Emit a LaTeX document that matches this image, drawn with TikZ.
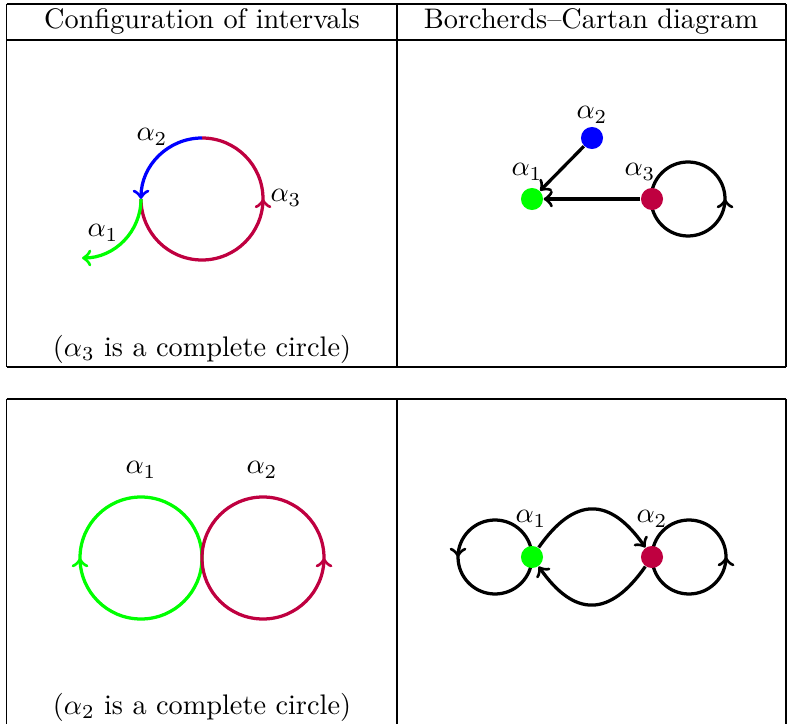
\documentclass[tikz,border=0pt]{standalone}
\usetikzlibrary{decorations.markings,arrows.meta}
\definecolor{cgreen}{rgb}{0,1,0}
\definecolor{cblue}{rgb}{0,0,1}
\definecolor{cred}{rgb}{0.75,0,0.25}
\begin{document}
\begin{tikzpicture}[x=0.3534pt,y=0.3534pt,
  frame/.style={line width=0.55pt},
  curve/.style={line width=1.15pt},
  lbl/.style={inner sep=0pt},
  dot/.style={circle,inner sep=0pt,minimum size=7.8pt},
  midarrow/.style={postaction={decorate,decoration={markings,mark=at position #1 with {\arrow{>}}}}},
  >={to}]
\useasboundingbox (0,0) rectangle (788,724);
% table frames
\draw[frame] (6.5,720) -- (786,720);
\draw[frame] (6.5,684) -- (786,684);
\draw[frame] (6.5,357) -- (786,357);
\draw[frame] (6.5,720) -- (6.5,357);
\draw[frame] (397,720) -- (397,357);
\draw[frame] (786,720) -- (786,357);
\draw[frame] (6.5,325) -- (786,325);
\draw[frame] (6.5,325) -- (6.5,0);
\draw[frame] (397,325) -- (397,0);
\draw[frame] (786,325) -- (786,0);
% headers
\node[lbl] (h1) at (202,703) {Configuration of intervals};
\node[lbl] (h2) at (591,703) {Borcherds--Cartan diagram};
% top-left: intervals
\coordinate (tlc) at (202,525);
\coordinate (tlp) at (141,525);
\draw[curve,cred,midarrow=0.667] (tlp) arc[start angle=180,end angle=450,radius=61];
\draw[curve,cblue,->] (202,586) arc[start angle=90,end angle=180,radius=61];
\draw[curve,cgreen,->] (tlp) arc[start angle=0,end angle=-90,radius=59];
\node[lbl] (ta2) at (152,587) {$\alpha_2$};
\node[lbl] (ta3) at (286,526) {$\alpha_3$};
\node[lbl] (ta1) at (103,491) {$\alpha_1$};
\node[lbl] (cap1) at (202,375) {($\alpha_3$ is a complete circle)};
% top-right: diagram
\draw[curve,midarrow=0.5] (651,525) arc[start angle=180,end angle=540,radius=37];
\node[dot,fill=cgreen] (a1) at (532,525) {};
\node[dot,fill=cblue] (a2) at (592,586) {};
\node[dot,fill=cred] (a3) at (652,525) {};
\draw[curve,->] (a2) -- (a1);
\draw[curve,->] (a3) -- (a1);
\node[lbl] (la1) at (527,552) {$\alpha_1$};
\node[lbl] (la2) at (592,609) {$\alpha_2$};
\node[lbl] (la3) at (640,552) {$\alpha_3$};
% bottom-left: intervals
\draw[curve,cgreen,midarrow=0.5] (202,166) arc[start angle=0,end angle=-360,radius=61];
\draw[curve,cred,midarrow=0.5] (202,166) arc[start angle=180,end angle=540,radius=61];
\node[lbl] (ba1) at (141,254) {$\alpha_1$};
\node[lbl] (ba2) at (262,254) {$\alpha_2$};
\node[lbl] (cap2) at (202,17) {($\alpha_2$ is a complete circle)};
% bottom-right: diagram
\draw[curve,midarrow=0.5] (532,167) arc[start angle=0,end angle=360,radius=37];
\draw[curve,midarrow=0.5] (652,167) arc[start angle=180,end angle=540,radius=37];
\node[dot,fill=cgreen] (b1) at (532,167) {};
\node[dot,fill=cred] (b2) at (652,167) {};
\draw[curve,->] (b1) to[out=55,in=125,looseness=1.5] (b2);
\draw[curve,->] (b2) to[out=-125,in=-55,looseness=1.5] (b1);
\node[lbl] (lb1) at (531,205) {$\alpha_1$};
\node[lbl] (lb2) at (652,205) {$\alpha_2$};
\end{tikzpicture}
\end{document}
